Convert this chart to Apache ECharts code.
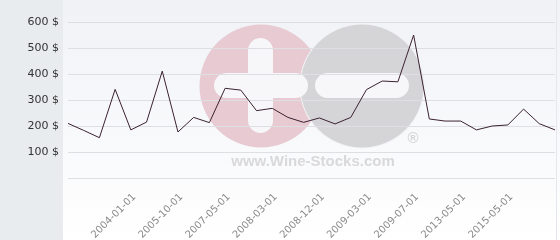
<!DOCTYPE html>
<html><head><meta charset="utf-8">
<script src="https://cdn.jsdelivr.net/npm/echarts@6/dist/echarts.min.js"></script>
<style>html,body{margin:0;padding:0;background:#fff}#c{width:560px;height:240px}</style>
</head><body><div id="c"></div>
<script>
// categories (only labelled dates are known; others left blank)
const categories = ['', '', '', '', '2004-01-01', '', '', '2005-10-01', '', '', '2007-05-01', '', '', '2008-03-01', '', '', '2008-12-01', '', '', '2009-03-01', '', '', '2009-07-01', '', '', '2013-05-01', '', '', '2015-05-01', '', '', ''];
const prices = [210, 183, 155, 341, 185, 215, 411, 177, 233, 213, 345, 338, 259, 268, 233, 214, 231, 208, 233, 340, 373, 370, 550, 227, 219, 219, 185, 200, 204, 265, 209, 185];
const yTicks = [0, 100, 200, 300, 400, 500, 600];

const chart = echarts.init(document.getElementById('c'));
chart.setOption({
  animation: false,
  graphic: [
    {type: 'rect', z: -30, shape: {x: 0, y: 0, width: 63, height: 240}, style: {fill: '#e8ecef'}},
    {type: 'rect', z: -30, shape: {x: 63, y: 0, width: 497, height: 240},
      style: {fill: new echarts.graphic.LinearGradient(0, 0, 0, 1, [{offset: 0, color: '#f0f2f6'}, {offset: 1, color: '#ffffff'}])}},
    {type: 'rect', z: -29, shape: {x: 556, y: 0, width: 1, height: 240}, style: {fill: '#e4e7eb'}},
    {type: 'circle', z: -20, shape: {cx: 261, cy: 86, r: 61.5}, style: {fill: '#e7cad2'}},
    {type: 'circle', z: -19, shape: {cx: 362, cy: 86, r: 62.5}, style: {fill: '#f2f3f6'}},
    {type: 'circle', z: -18, shape: {cx: 362, cy: 86, r: 61.5}, style: {fill: '#d5d5d7'}},
    {type: 'rect', z: -17, shape: {x: 248, y: 38, width: 25, height: 95, r: 12.5}, style: {fill: '#f7f7f9'}},
    {type: 'rect', z: -17, shape: {x: 214, y: 73, width: 94, height: 25, r: 12.5}, style: {fill: '#f7f7f9'}},
    {type: 'rect', z: -17, shape: {x: 315, y: 73, width: 94, height: 25, r: 12.5}, style: {fill: '#f7f7f9'}},
    {type: 'text', z: -17, x: 313, y: 162, style: {text: 'www.Wine-Stocks.com', fill: '#d9d9db', font: 'bold 15px "Liberation Sans"', align: 'center', verticalAlign: 'middle'}},
    {type: 'text', z: -17, x: 413, y: 139, style: {text: '®', fill: '#d6d6d8', font: 'bold 15px "Liberation Sans"', align: 'center', verticalAlign: 'middle'}}
  ],
  grid: {left: 68, right: 5, top: 22, bottom: 62, containLabel: false, outerBoundsMode: 'none'},
  xAxis: {
    type: 'category', data: categories, boundaryGap: false,
    axisLine: {show: false}, axisTick: {show: false},
    axisLabel: {interval: 0, rotate: 45, color: '#8a8a8a', fontSize: 10, fontFamily: 'DejaVu Sans', margin: 14, verticalAlign: 'top'}
  },
  yAxis: {
    type: 'value', min: yTicks[0], max: yTicks[yTicks.length - 1], interval: 100,
    axisLine: {show: false}, axisTick: {show: false},
    splitLine: {lineStyle: {color: '#dedfe2', width: 1}},
    axisLabel: {color: '#333', fontSize: 11, fontFamily: 'DejaVu Sans', margin: 9,
      formatter: v => v === 0 ? '' : v + ' $'}
  },
  series: [{
    type: 'line', data: prices, symbol: 'none',
    lineStyle: {color: '#3b2230', width: 1}
  }]
});
</script></body></html>
